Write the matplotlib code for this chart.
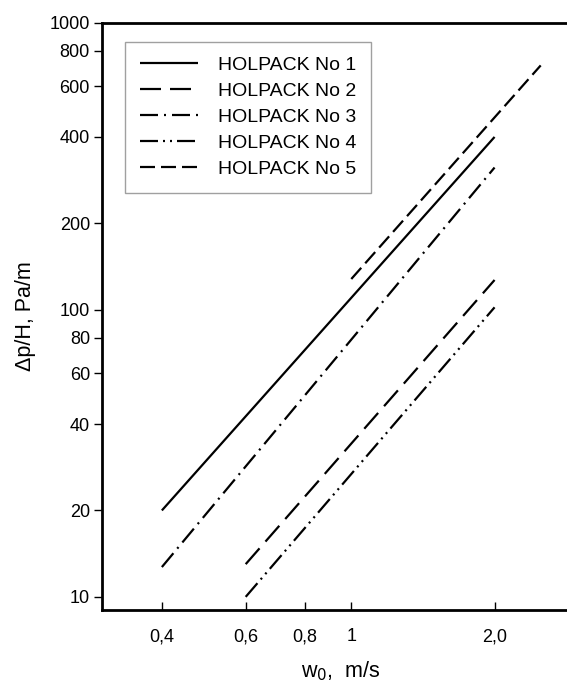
import matplotlib
matplotlib.use("Agg")
import matplotlib.pyplot as plt
from matplotlib.ticker import FixedLocator, NullLocator

plt.rcParams['font.family'] = ['Liberation Sans', 'DejaVu Sans']
plt.rcParams['lines.scale_dashes'] = False

# data (straight lines on log-log axes)
names = ['HOLPACK No 1', 'HOLPACK No 2', 'HOLPACK No 3', 'HOLPACK No 4', 'HOLPACK No 5']
w1 = [0.4, 2.0]
dp1 = [20, 400]
w2 = [0.6, 2.0]
dp2 = [13, 127]
w3 = [0.4, 2.0]
dp3 = [12.7, 313]
w4 = [0.6, 2.0]
dp4 = [10, 102]
w5 = [1.0, 2.5]
dp5 = [128, 710]

xticks = [0.4, 0.6, 0.8, 1, 2.0]
xlabels = ['0,4', '0,6', '0,8', '1', '2,0']
yticks = [10, 20, 40, 60, 80, 100, 200, 400, 600, 800, 1000]
ylabels = ['10', '20', '40', '60', '80', '100', '200', '400', '600', '800', '1000']

px = 0.72  # points per pixel at 100 dpi
styles = [
    '-',
    (0, (21 * px, 9 * px)),
    (0, (18 * px, 6 * px, 2 * px, 6 * px)),
    (0, (18 * px, 5 * px, 2 * px, 5 * px, 2 * px, 5 * px)),
    (0, (15 * px, 6 * px)),
]

fig = plt.figure(figsize=(5.67, 6.84), dpi=100)
ax = fig.add_axes([0.1806, 0.1082, 0.8395, 0.8586])

series = [(w1, dp1), (w2, dp2), (w3, dp3), (w4, dp4), (w5, dp5)]
for (w, dp), name, ls in zip(series, names, styles):
    ax.plot(w, dp, color='black', linewidth=1.6, linestyle=ls, label=name,
            solid_capstyle='butt', dash_capstyle='butt')

ax.set_xscale('log')
ax.set_yscale('log')
ax.set_xlim(0.3, 3.0)
ax.set_ylim(9.0, 1000)

ax.xaxis.set_major_locator(FixedLocator(xticks))
ax.xaxis.set_minor_locator(NullLocator())
ax.set_xticklabels(xlabels)
ax.yaxis.set_major_locator(FixedLocator(yticks))
ax.yaxis.set_minor_locator(NullLocator())
ax.set_yticklabels(ylabels)

ax.tick_params(axis='x', direction='in', length=6, width=1, labelsize=13, pad=13)
ax.tick_params(axis='y', direction='out', length=6, width=1, labelsize=13, pad=3)

for s in ['left', 'bottom', 'top']:
    ax.spines[s].set_linewidth(2)
ax.spines['right'].set_visible(False)

ax.set_xlabel('w$_0$,  m/s', fontsize=15.5, labelpad=10)
ax.set_ylabel('Δp/H, Pa/m', fontsize=15.5, labelpad=10)

leg = ax.legend(loc='upper left', bbox_to_anchor=(0.048, 0.967), fontsize=14,
                frameon=True, fancybox=False, edgecolor='#888888',
                handlelength=3.0, handletextpad=1.0, labelspacing=0.43,
                borderpad=0.75, borderaxespad=0)
leg.get_frame().set_linewidth(1)

fig.savefig('out.png', dpi=100)
